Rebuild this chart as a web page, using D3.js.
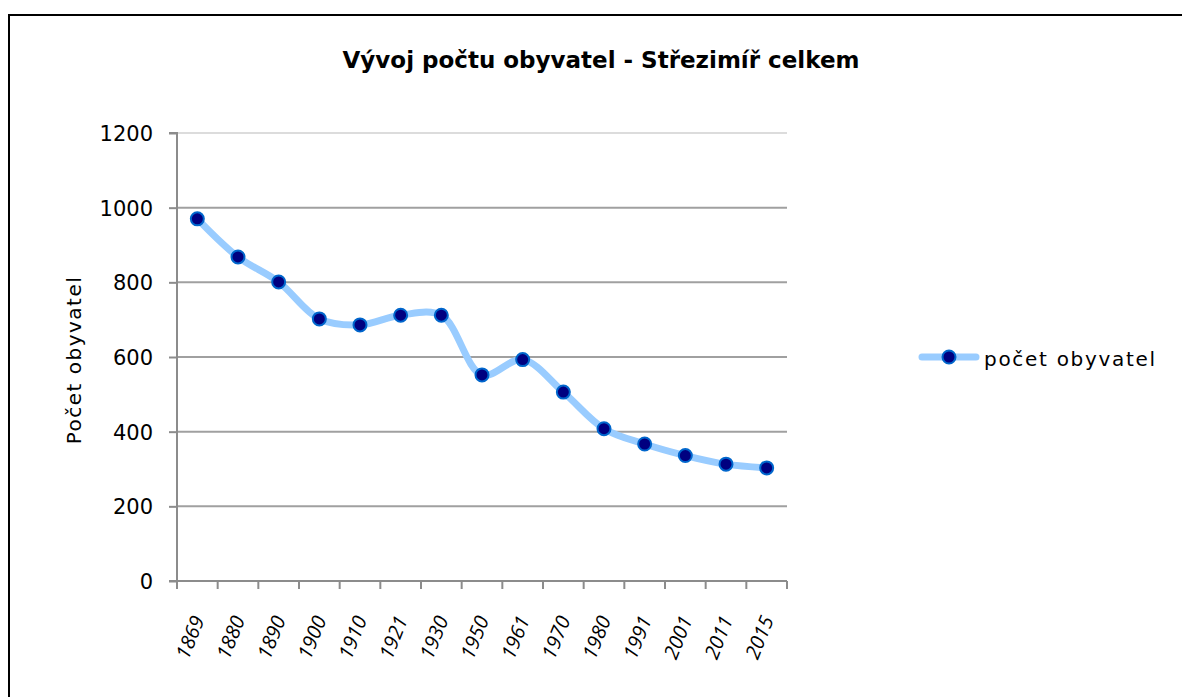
<!DOCTYPE html>
<html><head><meta charset="utf-8">
<script src="https://cdn.jsdelivr.net/npm/d3@7"></script>
<style>body{margin:0;background:#fff}svg{display:block}</style>
</head><body>
<svg id="c" width="1182" height="697"></svg>
<script>
const years = ["1869","1880","1890","1900","1910","1921","1930","1950","1961","1970","1980","1991","2001","2011","2015"];
const population = [970,868,801,702,686,712,712,552,593,506,408,367,336,313,303];
const yTicks = [0,200,400,600,800,1000,1200];
const titleText = "Vývoj počtu obyvatel - Střezimíř celkem";
const yLabel = "Počet obyvatel";
const seriesName = "počet obyvatel";

(function(){
const svg = d3.select("#c");
const W = 1182, H = 697;
const pL = 177, pR = 787, pT = 133, pB = 581;
const font = "'DejaVu Sans', sans-serif";

svg.append("rect").attr("x",9).attr("y",15).attr("width",W+10).attr("height",H+10)
  .attr("fill","#fff").attr("stroke","#000").attr("stroke-width",2);

const x = d3.scaleBand().domain(years).range([pL,pR]);
const y = d3.scaleLinear().domain([0,1200]).range([pB,pT]);

svg.append("g").selectAll("line").data(yTicks.filter(d=>d>0)).join("line")
  .attr("x1",pL).attr("x2",pR).attr("y1",d=>y(d)).attr("y2",d=>y(d))
  .attr("stroke",d=>d===1200?"#dcdcdc":"#a0a0a0").attr("stroke-width",2);

const ya = svg.append("g").attr("transform",`translate(${pL},0)`)
  .call(d3.axisLeft(y).tickValues(yTicks).tickFormat(d3.format("d")).tickSize(8).tickPadding(16));
ya.select(".domain").attr("stroke","#8c8c8c").attr("stroke-width",2).attr("d",`M-8,${pT}H0V${pB}`);
ya.selectAll(".tick line").attr("stroke","#8c8c8c").attr("stroke-width",2);
ya.selectAll(".tick text").attr("font-family",font).attr("font-size",21).attr("fill","#000").attr("dy","0.36em");

const xa = svg.append("g").attr("transform",`translate(0,${pB})`);
xa.append("line").attr("x1",pL-8).attr("x2",pR).attr("y1",0).attr("y2",0)
  .attr("stroke","#8c8c8c").attr("stroke-width",2);
const bounds = years.map(d=>x(d)).concat([pR]);
xa.selectAll("line.t").data(bounds).join("line").attr("class","t")
  .attr("x1",d=>d).attr("x2",d=>d).attr("y1",0).attr("y2",8)
  .attr("stroke","#8c8c8c").attr("stroke-width",2);
xa.selectAll("text").data(years).join("text")
  .attr("transform",d=>`translate(${x(d)+x.bandwidth()/2+1},${36}) rotate(-68)`)
  .attr("text-anchor","end").attr("dy","0.35em")
  .attr("font-family","'Open Sans', sans-serif").attr("font-style","italic").attr("font-size",20)
  .attr("fill","#000").text(d=>d);

const line = d3.line().x((d,i)=>x(years[i])+x.bandwidth()/2).y(d=>y(d)).curve(d3.curveCatmullRom.alpha(0.5));
svg.append("path").datum(population).attr("d",line).attr("fill","none")
  .attr("stroke","#99ccff").attr("stroke-width",7).attr("stroke-linecap","round").attr("stroke-linejoin","round");
svg.append("g").selectAll("circle").data(population).join("circle")
  .attr("cx",(d,i)=>x(years[i])+x.bandwidth()/2).attr("cy",d=>y(d)).attr("r",6.5)
  .attr("fill","#000080").attr("stroke","#0066cc").attr("stroke-width",2);

svg.append("text").attr("x",601).attr("y",68).attr("text-anchor","middle")
  .attr("font-family",font).attr("font-weight","bold").attr("font-size",23).attr("fill","#000").text(titleText);

svg.append("text").attr("transform",`translate(81,360) rotate(-90)`).attr("text-anchor","middle")
  .attr("font-family",font).attr("font-size",20).attr("letter-spacing",1.5).attr("fill","#000").text(yLabel);

const lg = svg.append("g");
lg.append("line").attr("x1",922).attr("x2",976).attr("y1",357).attr("y2",357)
  .attr("stroke","#99ccff").attr("stroke-width",7).attr("stroke-linecap","round");
lg.append("circle").attr("cx",949).attr("cy",357).attr("r",6.5).attr("fill","#000080").attr("stroke","#0066cc").attr("stroke-width",2);
lg.append("text").attr("x",984).attr("y",359).attr("dy","0.35em").attr("font-family",font).attr("font-size",20)
  .attr("letter-spacing",1.7).attr("fill","#000").text(seriesName);
})();
</script>
</body></html>
